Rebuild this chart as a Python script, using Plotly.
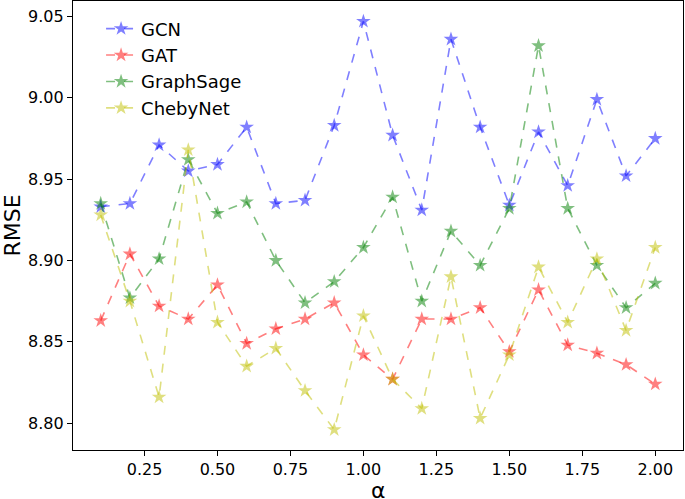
import plotly.graph_objects as go

alpha = [0.1, 0.2, 0.3, 0.4, 0.5, 0.6, 0.7, 0.8, 0.9, 1.0,
         1.1, 1.2, 1.3, 1.4, 1.5, 1.6, 1.7, 1.8, 1.9, 2.0]

gcn = [8.933, 8.935, 8.971, 8.955, 8.959, 8.982, 8.935, 8.937, 8.983, 9.047,
       8.977, 8.931, 9.036, 8.982, 8.934, 8.979, 8.946, 8.999, 8.952, 8.975]
gat = [8.863, 8.904, 8.872, 8.864, 8.885, 8.849, 8.858, 8.864, 8.874, 8.842,
       8.827, 8.864, 8.864, 8.871, 8.844, 8.882, 8.848, 8.843, 8.836, 8.824]
graphsage = [8.935, 8.877, 8.901, 8.962, 8.929, 8.936, 8.900, 8.874, 8.887, 8.908,
             8.939, 8.875, 8.918, 8.897, 8.932, 9.032, 8.932, 8.897, 8.871, 8.886]
chebynet = [8.928, 8.875, 8.816, 8.968, 8.862, 8.835, 8.846, 8.820, 8.796, 8.866,
            8.827, 8.809, 8.890, 8.803, 8.842, 8.896, 8.862, 8.901, 8.857, 8.908]

x_ticks = [0.25, 0.5, 0.75, 1.0, 1.25, 1.5, 1.75, 2.0]
y_ticks = [8.80, 8.85, 8.90, 8.95, 9.00, 9.05]

series = [
    ('GCN', gcn, 'rgba(0,0,255,0.5)'),
    ('GAT', gat, 'rgba(255,0,0,0.5)'),
    ('GraphSage', graphsage, 'rgba(0,128,0,0.5)'),
    ('ChebyNet', chebynet, 'rgba(191,191,0,0.5)'),
]

fig = go.Figure()
for name, values, color in series:
    fig.add_trace(go.Scatter(
        x=alpha, y=values, name=name, mode='lines+markers',
        legendgroup=name,
        line=dict(color=color, width=1.6, dash='dash'),
        marker=dict(symbol='star', size=11, color=color, line=dict(width=0)),
    ))

axis_style = dict(
    showline=True, linecolor='black', linewidth=1.2, mirror=True,
    ticks='outside', ticklen=5, tickwidth=1.2, tickcolor='black',
    showgrid=False, zeroline=False, automargin=False,
    tickfont=dict(size=16, color='black'),
)

fig.update_xaxes(
    range=[0.005, 2.095],
    tickvals=x_ticks,
    ticktext=[f'{v:.2f}' for v in x_ticks],
    **axis_style,
)
fig.update_yaxes(
    range=[8.7835, 9.0595],
    tickvals=y_ticks,
    ticktext=[f'{v:.2f}' for v in y_ticks],
    title=dict(text='RMSE', font=dict(size=22, color='black'), standoff=12),
    **axis_style,
)

# x title as an annotation, axis title standoff is ignored without automargin
fig.add_annotation(
    text='α', xref='paper', yref='paper', x=0.5, y=0,
    xanchor='center', yanchor='middle', yshift=-40, showarrow=False,
    font=dict(size=22, color='black'),
)

fig.update_layout(
    width=685, height=499,
    margin=dict(l=73, r=2, t=1, b=49),
    paper_bgcolor='white', plot_bgcolor='white',
    font=dict(family='DejaVu Sans', color='black'),
    legend=dict(
        x=0.046, y=0.979, xanchor='left', yanchor='top',
        font=dict(size=18, color='black'),
        bgcolor='rgba(255,255,255,0)', tracegroupgap=0,
    ),
)

# the page body has a default 8px margin; drop it so the figure sits at 0,0
fig.write_html('out.html', config={'displayModeBar': False},
               post_script="document.body.style.margin='0';")
